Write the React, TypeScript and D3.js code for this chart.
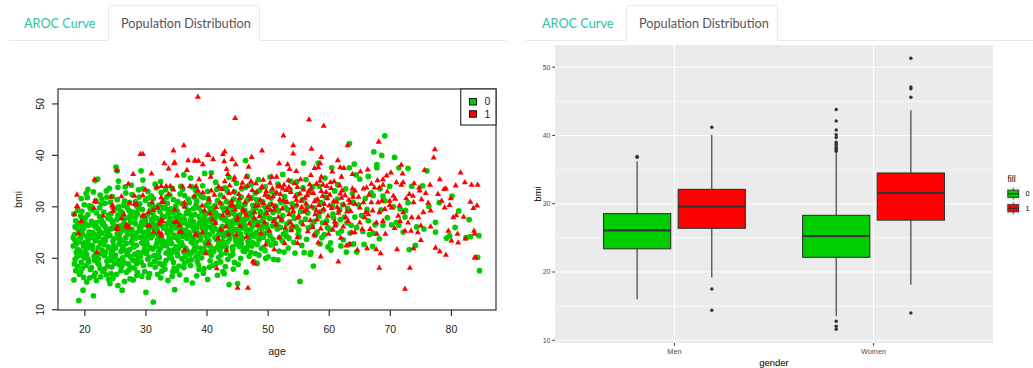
import React from 'react';
import * as d3 from 'd3';

// ---------- scatter: age vs bmi, by outcome class ----------
const classLabels = ['0', '1'];
const classColors = ['#00CD00', '#FF0000'];
const ageTicks = [20, 30, 40, 50, 60, 70, 80];
const bmiTicksScatter = [10, 20, 30, 40, 50];

// class 0: [age, bmi]
const class0Points: [number, number][] = [
  [18.1,22.4],[18.2,15.8],[18.3,24.6],[18.4,19.8],[18.5,27.3],[18.6,21.1],[18.7,25.9],[18.8,18.4],[18.9,23.2],[18.2,28.6],[18.5,17.6],[18.8,29.3],[18.4,26.1],[18.7,20.3],[18.1,24.0],[18.6,22.8],[18.3,18.9],[18.9,26.8],[18.4,23.5],[18.8,21.7],
  [19.0,11.8],[19.1,16.9],[19.2,23.9],[19.3,28.2],[19.4,20.6],[19.5,25.4],[19.6,18.1],[19.7,13.8],[19.8,22.3],[19.9,30.4],[19.2,26.7],[19.4,19.2],[19.6,24.7],[19.8,27.6],[19.1,21.5],[19.3,17.4],[19.5,29.1],[19.7,22.9],[19.9,20.1],[19.4,31.6],[19.6,26.0],[19.8,16.3],[19.0,25.2],
  [20.0,21.3],[20.1,27.9],[20.2,18.6],[20.3,24.3],[20.4,31.8],[20.5,19.9],[20.6,26.4],[20.7,22.6],[20.8,16.2],[20.9,29.7],[20.1,23.1],[20.3,20.7],[20.5,28.5],[20.7,25.1],[20.9,17.8],[20.2,32.6],[20.4,22.0],[20.6,19.3],[20.8,24.8],[20.0,26.9],[20.5,33.4],[20.7,30.2],[20.3,15.4],
  [21.0,24.1],[21.1,18.2],[21.2,29.4],[21.3,21.8],[21.4,12.7],[21.5,26.3],[21.6,19.6],[21.7,23.4],[21.8,31.2],[21.9,15.7],[21.1,27.2],[21.3,25.0],[21.5,20.4],[21.7,17.1],[21.9,28.8],[21.2,22.5],[21.4,32.9],[21.6,24.6],[21.8,21.0],[21.0,30.1],[21.7,35.1],[21.5,16.6],[21.9,26.0],
  [22.0,20.2],[22.1,35.4],[22.2,25.7],[22.3,18.8],[22.4,28.1],[22.5,23.0],[22.6,16.4],[22.7,30.6],[22.8,21.6],[22.9,26.6],[22.1,19.1],[22.3,24.2],[22.5,32.3],[22.7,27.4],[22.9,17.5],[22.2,22.1],[22.4,29.8],[22.6,20.9],[22.8,24.9],[22.0,27.0],[22.5,18.0],[22.8,31.5],
  [23.0,23.6],[23.1,29.0],[23.2,17.9],[23.3,26.2],[23.4,21.2],[23.5,33.1],[23.6,19.4],[23.7,24.5],[23.8,27.8],[23.9,15.9],[23.1,22.7],[23.3,30.7],[23.5,25.3],[23.7,18.5],[23.9,28.4],[23.2,20.5],[23.4,24.0],[23.6,31.9],[23.8,22.2],[23.0,26.9],[23.5,16.8],[23.9,19.9],
  [24.0,25.6],[24.1,15.1],[24.2,21.9],[24.3,28.7],[24.4,18.3],[24.5,32.0],[24.6,23.3],[24.7,26.5],[24.8,20.0],[24.9,29.6],[24.1,24.4],[24.3,17.0],[24.5,27.1],[24.7,22.4],[24.9,19.0],[24.2,30.9],[24.4,25.8],[24.6,16.1],[24.8,23.8],[24.0,33.6],[24.5,21.4],[24.9,26.2],[24.3,20.8],
  [25.0,22.0],[25.1,37.7],[25.2,27.5],[25.3,37.0],[25.4,14.7],[25.5,35.0],[25.6,24.2],[25.7,18.7],[25.8,29.2],[25.9,21.3],[25.1,25.9],[25.3,31.4],[25.5,19.6],[25.7,23.7],[25.9,27.9],[25.2,16.9],[25.4,33.8],[25.6,22.8],[25.8,26.3],[25.0,20.6],[25.5,30.0],[25.9,17.6],[25.3,24.8],
  [26.0,26.0],[26.1,13.8],[26.2,23.5],[26.3,30.3],[26.4,19.2],[26.5,27.7],[26.6,21.5],[26.7,32.7],[26.8,17.3],[26.9,25.2],[26.1,28.9],[26.3,22.3],[26.5,15.5],[26.7,24.0],[26.9,29.9],[26.2,20.1],[26.4,26.8],[26.6,33.9],[26.8,22.9],[26.0,18.4],[26.5,31.1],[26.9,20.7],[26.3,25.5],
  [27.0,24.7],[27.1,18.9],[27.2,29.3],[27.3,21.7],[27.4,16.0],[27.5,27.0],[27.6,23.1],[27.7,32.4],[27.8,19.7],[27.9,15.8],[27.1,26.4],[27.3,30.8],[27.5,20.3],[27.7,25.6],[27.9,22.6],[27.2,17.7],[27.4,28.3],[27.6,34.2],[27.8,24.3],[27.0,21.0],[27.5,18.2],[27.9,29.0],[27.4,25.0],
  [28.0,22.2],[28.1,27.3],[28.2,19.5],[28.3,31.0],[28.4,24.9],[28.5,16.7],[28.6,28.6],[28.7,21.1],[28.8,33.3],[28.9,26.1],[28.1,18.1],[28.3,23.9],[28.5,30.1],[28.7,20.0],[28.9,25.3],[28.2,27.9],[28.4,22.5],[28.6,17.2],[28.8,29.7],[28.0,24.4],[28.5,19.0],[28.9,31.9],[28.3,26.7],
  [29.0,25.8],[29.1,20.4],[29.2,37.0],[29.3,23.0],[29.4,28.0],[29.5,35.2],[29.6,18.6],[29.7,26.9],[29.8,21.9],[29.9,31.3],[29.1,24.1],[29.3,16.5],[29.5,33.5],[29.7,22.8],[29.9,27.4],[29.2,19.3],[29.4,29.5],[29.6,25.1],[29.8,17.4],[29.0,30.6],[29.5,21.2],[29.9,23.7],[29.3,27.0],
  [30.0,13.4],[30.1,23.3],[30.2,28.4],[30.3,19.8],[30.4,31.7],[30.5,25.7],[30.6,17.0],[30.7,22.1],[30.8,29.4],[30.9,26.3],[30.1,20.9],[30.3,33.0],[30.5,24.5],[30.7,18.8],[30.9,27.6],[30.2,22.7],[30.4,16.3],[30.6,30.5],[30.8,24.0],[30.0,26.6],[30.5,20.2],[30.9,32.1],[30.3,25.2],[30.7,28.9],
  [31.0,27.1],[31.1,21.8],[31.2,11.5],[31.3,30.0],[31.4,24.8],[31.5,18.3],[31.6,26.5],[31.7,33.7],[31.8,22.9],[31.9,16.9],[31.1,28.8],[31.3,20.5],[31.5,25.4],[31.7,29.8],[31.9,23.6],[31.2,31.6],[31.4,19.4],[31.6,22.3],[31.8,27.7],[31.0,24.3],[31.5,34.4],[31.9,20.1],[31.3,26.0],
  [32.0,24.6],[32.1,30.3],[32.2,19.0],[32.3,26.9],[32.4,22.0],[32.5,32.8],[32.6,17.5],[32.7,28.2],[32.8,23.4],[32.9,25.9],[32.1,21.3],[32.3,29.1],[32.5,24.2],[32.7,18.7],[32.9,31.2],[32.2,27.3],[32.4,16.2],[32.6,23.0],[32.8,29.9],[32.0,20.6],[32.5,26.4],[32.9,22.6],[32.4,34.9],
  [33.0,28.0],[33.1,22.8],[33.2,26.1],[33.3,19.6],[33.4,31.9],[33.5,24.9],[33.6,15.7],[33.7,29.4],[33.8,21.5],[33.9,27.5],[33.1,17.9],[33.3,25.7],[33.5,30.7],[33.7,23.3],[33.9,20.3],[33.2,33.3],[33.4,22.4],[33.6,28.6],[33.8,25.0],[33.0,18.9],[33.5,26.8],[33.9,32.3],[33.3,21.0],
  [34.0,23.8],[34.1,29.6],[34.2,20.0],[34.3,26.6],[34.4,17.4],[34.5,31.4],[34.6,24.5],[34.7,13.9],[34.8,28.1],[34.9,22.2],[34.1,25.3],[34.3,33.6],[34.5,19.2],[34.7,27.0],[34.9,30.2],[34.2,22.9],[34.4,28.9],[34.6,18.1],[34.8,24.1],[34.0,27.8],[34.5,21.6],[34.9,25.9],[34.3,16.5],
  [35.0,26.2],[35.1,21.0],[35.2,31.0],[35.3,24.0],[35.4,18.5],[35.5,28.4],[35.6,22.7],[35.7,34.0],[35.8,25.6],[35.9,19.9],[35.1,29.2],[35.3,23.5],[35.5,16.8],[35.7,26.7],[35.9,30.6],[35.2,20.5],[35.4,27.2],[35.6,32.5],[35.8,23.1],[35.0,17.6],[35.5,25.0],[35.9,28.0],[35.3,21.9],
  [36.0,22.5],[36.1,27.9],[36.2,36.2],[36.3,19.1],[36.4,30.1],[36.5,25.5],[36.6,15.8],[36.7,29.0],[36.8,21.4],[36.9,26.4],[36.1,24.3],[36.3,32.2],[36.5,20.4],[36.7,23.9],[36.9,31.5],[36.2,18.2],[36.4,26.9],[36.6,28.7],[36.8,24.7],[36.0,33.4],[36.5,22.0],[36.9,19.5],[36.3,27.5],
  [37.0,25.0],[37.1,30.8],[37.2,20.8],[37.3,27.4],[37.4,23.2],[37.5,33.9],[37.6,15.2],[37.7,26.0],[37.8,29.7],[37.9,21.8],[37.1,24.6],[37.3,18.6],[37.5,28.2],[37.7,22.9],[37.9,31.9],[37.2,26.6],[37.4,19.7],[37.6,24.0],[37.8,27.1],[37.0,29.3],[37.5,21.1],[37.9,25.3],[37.3,35.6],
  [38.0,28.5],[38.1,22.3],[38.2,26.3],[38.3,31.1],[38.4,19.4],[38.5,24.4],[38.6,29.8],[38.7,17.8],[38.8,27.0],[38.9,23.6],[38.1,33.2],[38.3,25.8],[38.5,20.9],[38.7,28.1],[38.9,22.0],[38.2,30.4],[38.4,24.9],[38.6,18.7],[38.8,26.7],[38.0,21.6],[38.5,32.6],[38.9,27.9],[38.3,16.6],
  [39.0,24.2],[39.1,29.1],[39.2,21.2],[39.3,26.9],[39.4,31.8],[39.5,18.0],[39.6,36.5],[39.7,25.4],[39.8,22.6],[39.9,28.7],[39.1,20.1],[39.3,34.1],[39.5,27.6],[39.7,23.0],[39.9,30.3],[39.2,25.9],[39.4,17.1],[39.6,28.3],[39.8,24.7],[39.0,32.0],[39.5,21.7],[39.9,26.2],
  [40.0,22.9],[40.1,15.9],[40.2,27.2],[40.3,30.9],[40.4,24.6],[40.5,19.5],[40.6,28.9],[40.7,36.6],[40.8,21.9],[40.9,26.5],[40.1,33.0],[40.3,23.4],[40.5,29.7],[40.7,20.6],[40.9,25.2],[40.2,31.6],[40.4,18.3],[40.6,26.0],[40.8,28.1],[40.0,24.0],[40.5,22.4],
  [41.0,26.7],[41.1,21.3],[41.2,30.2],[41.3,24.1],[41.4,28.8],[41.5,19.0],[41.6,33.4],[41.7,16.7],[41.8,25.5],[41.9,22.7],[41.1,29.4],[41.3,27.0],[41.5,23.7],[41.7,31.2],[41.9,20.2],[41.2,25.9],[41.4,34.8],[41.6,22.1],[41.8,28.3],[41.0,18.6],
  [42.0,23.1],[42.1,28.2],[42.2,32.3],[42.3,20.7],[42.4,25.8],[42.5,29.9],[42.6,17.4],[42.7,24.3],[42.8,17.0],[42.9,27.4],[42.1,21.6],[42.3,30.6],[42.5,26.2],[42.7,22.5],[42.9,33.7],[42.2,19.3],[42.4,27.8],[42.6,24.9],[42.8,29.2],[42.0,25.4],
  [43.0,27.6],[43.1,22.2],[43.2,31.0],[43.3,25.0],[43.4,19.8],[43.5,28.5],[43.6,14.9],[43.7,23.8],[43.8,30.4],[43.9,26.3],[43.1,21.0],[43.3,33.1],[43.5,24.5],[43.7,27.1],[43.9,20.5],[43.2,29.6],[43.4,23.2],[43.6,35.7],[43.8,25.7],[43.0,18.4],
  [44.0,24.8],[44.1,29.7],[44.2,21.7],[44.3,27.3],[44.4,31.5],[44.5,19.2],[44.6,25.6],[44.7,28.0],[44.8,22.8],[44.9,30.1],[44.1,26.5],[44.3,17.9],[44.5,32.9],[44.7,23.5],[44.9,26.9],[44.2,20.8],[44.4,28.7],[44.6,24.2],[44.8,34.6],
  [45.0,15.1],[45.1,25.3],[45.2,30.8],[45.3,22.3],[45.4,27.7],[45.5,20.0],[45.6,31.9],[45.7,26.1],[45.8,23.9],[45.9,29.0],[45.1,18.8],[45.3,28.4],[45.5,24.7],[45.7,33.5],[45.9,21.4],[45.2,26.8],[45.4,30.0],[45.6,22.9],[45.8,27.2],
  [46.0,27.0],[46.1,22.0],[46.2,29.3],[46.3,39.0],[46.4,17.3],[46.5,25.0],[46.6,31.3],[46.7,23.3],[46.8,28.6],[46.9,20.4],[46.1,26.4],[46.3,33.8],[46.5,21.8],[46.7,27.9],[46.9,24.4],[46.2,30.5],[46.4,25.7],[46.6,35.9],[46.8,22.6],
  [47.0,24.0],[47.1,28.8],[47.2,21.1],[47.3,31.8],[47.4,26.2],[47.5,23.0],[47.6,29.5],[47.7,19.3],[47.8,27.5],[47.9,32.7],[47.1,25.5],[47.3,22.4],[47.5,30.3],[47.7,26.8],[47.9,20.9],[47.2,34.4],[47.4,28.2],[47.6,24.6],
  [48.0,29.8],[48.1,25.1],[48.2,22.7],[48.3,30.7],[48.4,27.0],[48.5,20.6],[48.6,33.2],[48.7,24.5],[48.8,28.4],[48.9,21.9],[48.1,31.4],[48.3,26.4],[48.5,23.6],[48.7,29.1],[48.9,25.8],[48.2,19.0],[48.4,35.3],
  [49.0,26.1],[49.1,31.0],[49.2,22.1],[49.3,28.0],[49.4,24.8],[49.5,33.9],[49.6,20.0],[49.7,29.6],[49.8,25.9],[49.9,23.3],[49.1,27.3],[49.3,30.2],[49.5,21.5],[49.7,26.6],[49.9,32.1],[49.2,24.1],[49.6,28.7],
  [19.3,24.1],[20.6,23.7],[21.2,26.8],[22.4,25.2],[23.3,23.3],[24.2,27.6],[25.4,28.4],[26.2,22.0],[27.3,27.8],[28.4,28.9],[29.2,26.2],[30.2,24.8],[31.4,28.0],[32.3,24.0],[33.2,29.7],[34.2,26.2],[35.2,27.8],[36.2,25.2],[37.2,28.6],[38.2,23.1],[39.2,27.3],[40.4,27.5],[41.3,27.9],[42.5,23.3],[43.4,26.7],[44.3,25.4],[45.2,23.6],[46.3,27.6],[47.3,27.0],[48.6,26.0],
  [19.8,25.8],[21.9,23.9],[23.8,25.0],[25.8,25.0],[27.7,23.4],[29.7,24.4],[31.8,25.6],[33.8,23.9],[35.8,27.3],[37.8,23.7],[39.8,26.9],[41.8,24.4],[43.8,28.8],[45.8,25.9],[47.8,24.3],
  [20.2,20.4],[22.2,19.9],[24.2,19.6],[26.2,18.9],[28.2,20.8],[30.2,21.5],[32.2,20.2],[34.2,21.0],[36.2,21.2],[38.2,20.3],[40.2,21.2],[42.2,22.0],[44.2,22.2],[46.2,21.3],
  [50.0,20.3],[50.2,27.8],[50.3,24.4],[50.4,30.5],[50.5,22.6],[50.6,33.0],[50.7,26.3],[50.8,28.9],[50.9,19.8],[50.1,25.2],[50.5,31.7],[50.8,23.7],[50.3,35.8],
  [51.0,27.5],[51.2,22.9],[51.3,30.1],[51.5,25.7],[51.6,19.7],[51.7,29.2],[51.9,24.0],[51.1,32.6],[51.4,26.6],[51.8,21.4],[51.6,34.4],
  [52.0,26.0],[52.1,30.9],[52.3,23.4],[52.4,28.3],[52.6,21.2],[52.7,32.0],[52.9,25.3],[52.2,27.4],[52.5,24.7],[52.8,29.9],[52.4,36.3],
  [53.0,24.3],[53.2,29.4],[53.3,22.0],[53.5,27.1],[53.6,33.3],[53.8,25.8],[53.9,30.6],[53.1,26.7],[53.4,23.9],[53.7,35.0],
  [54.0,28.5],[54.2,23.1],[54.4,21.0],[54.5,30.2],[54.6,26.1],[54.8,32.4],[54.9,24.6],[54.3,27.8],[54.7,34.9],
  [55.0,25.5],[55.2,15.5],[55.3,29.1],[55.5,22.5],[55.6,31.4],[55.8,38.5],[55.9,21.1],[55.4,27.0],[55.7,33.7],[55.1,24.2],
  [56.1,27.6],[56.3,23.7],[56.4,30.0],[56.6,25.9],[56.8,32.8],[56.9,20.8],[56.2,35.3],[56.5,28.8],
  [57.0,21.1],[57.2,26.4],[57.4,18.5],[57.5,29.8],[57.7,24.5],[57.9,31.3],[57.3,33.9],[57.6,27.2],
  [58.0,25.1],[58.2,38.5],[58.3,28.1],[58.5,22.8],[58.7,30.8],[58.9,26.9],[58.4,34.0],[58.8,24.0],
  [59.0,29.3],[59.2,24.6],[59.4,31.9],[59.6,27.3],[59.8,22.2],[59.3,35.6],[59.7,26.0],
  [60.0,25.7],[60.2,23.0],[60.4,37.6],[60.5,30.2],[60.7,27.9],[60.9,33.1],[60.3,21.6],[60.6,28.6],
  [61.1,26.6],[61.3,31.5],[61.5,24.9],[61.7,29.4],[61.9,22.4],[61.4,34.3],[61.8,27.5],
  [62.0,25.3],[62.2,30.4],[62.5,28.0],[62.8,21.2],[62.7,33.5],[62.3,23.6],[62.9,26.9],
  [63.0,29.7],[63.3,37.6],[63.3,22.7],[63.6,26.4],[63.9,30.9],[63.4,24.9],[63.8,32.6],[63.3,42.3],
  [64.1,38.3],[64.0,22.8],[64.2,28.0],[64.4,36.2],[64.5,26.0],[64.5,21.2],[64.8,30.4],
  [65.0,35.4],[65.3,28.3],[65.7,22.7],[65.5,25.2],[65.9,31.6],
  [66.4,35.9],[66.4,27.3],[66.6,24.6],[66.2,29.5],[66.9,32.7],
  [67.1,22.3],[67.2,32.2],[67.2,24.9],[67.3,40.7],[67.5,26.5],[67.8,37.6],[67.8,38.2],
  [68.2,23.8],[68.3,33.5],[68.6,40.0],[68.8,32.1],[68.8,26.4],[68.5,29.4],
  [69.1,43.8],[69.1,31.2],[69.9,34.0],[69.5,27.9],
  [70.2,26.5],[70.7,39.6],[70.5,30.0],
  [71.0,27.0],[71.4,26.4],[71.4,37.6],[71.6,29.6],
  [72.1,25.1],[72.4,28.0],[72.5,29.3],[72.9,37.5],[72.9,30.8],
  [73.1,21.7],[73.5,34.0],[74.1,22.5],[74.3,26.1],[75.3,34.1],[75.5,25.7],[76.0,37.0],[76.3,30.1],
  [77.4,27.0],[77.4,25.1],[78.0,30.8],[79.2,23.9],[79.7,24.4],[80.1,32.1],[80.6,26.0],[81.2,29.2],
  [82.4,24.0],[82.9,27.5],[83.1,24.2],[84.3,20.2],[84.5,24.4],[84.6,17.6],
];

// class 1: [age, bmi]
const class1Points: [number, number][] = [
  [38.5,51.4],[36.2,42.0],[34.5,41.0],[29.1,40.3],[29.5,40.3],[38.1,39.0],[38.6,39.0],[34.7,38.7],[33.0,38.5],[39.3,38.3],[25.2,37.2],[33.7,37.5],[36.7,37.2],[30.9,36.5],[27.9,36.4],[35.1,36.1],[21.6,35.4],[27.1,34.5],[38.7,35.4],
  [18.7,32.4],[18.8,30.1],[18.3,28.6],[19.4,27.3],[19.0,24.9],[21.5,29.8],[21.6,31.1],[26.0,32.1],[24.3,32.0],[27.3,30.8],[28.1,30.6],[24.5,30.3],[24.6,29.2],[23.0,28.3],[26.4,28.6],[27.0,26.4],[27.2,26.0],[26.0,27.8],[25.3,25.7],[22.0,21.2],
  [29.7,28.3],[30.6,26.4],[30.4,29.0],[31.0,30.9],[29.9,33.4],[31.8,33.9],[32.5,34.1],[33.3,34.1],[34.0,34.1],[32.5,31.9],[32.8,30.9],[31.9,29.9],[32.7,27.3],[32.2,26.7],[33.7,32.5],[34.5,33.4],[32.1,25.1],
  [36.0,34.0],[37.2,34.1],[38.2,34.1],[38.5,33.2],[39.3,32.8],[37.9,32.1],[36.3,30.8],[36.3,30.1],[34.7,29.5],[34.7,27.1],[35.1,27.1],[35.5,26.4],[35.8,25.1],[38.1,24.7],[36.3,21.6],[39.2,25.1],[39.6,29.3],[39.2,30.3],
  [30.3,26.4],[32.5,24.4],[28.1,32.2],[29.5,32.3],[28.5,30.5],[25.3,26.2],[26.8,26.2],[24.6,29.9],
  [18.7,30.2],[21.9,31.0],[24.5,30.4],[25.2,25.9],[26.8,26.5],[31.2,29.4],[32.5,27.5],[29.5,28.4],[31.2,25.2],[32.5,24.9],[32.6,31.0],[35.5,25.2],[36.4,21.7],[38.3,24.6],
  [34.6,38.5],[36.9,39.1],[38.0,39.1],[40.2,40.1],
  [44.6,47.3],[56.7,47.0],[59.1,45.8],[52.5,43.9],[54.1,42.0],[54.1,40.4],[57.1,41.3],[49.0,41.0],[42.9,40.8],[42.6,40.3],[40.1,40.1],[41.0,39.3],[44.1,39.3],[47.3,39.7],[58.7,39.7],[61.4,39.1],[51.8,38.5],[53.2,38.3],[46.8,37.8],[44.7,38.3],[42.8,38.9],[43.2,37.4],[54.6,37.0],[53.5,37.4],[57.6,37.6],[58.2,37.7],[58.5,38.5],[61.8,37.7],[62.4,37.6],[63.0,42.0],
  [51.4,35.9],[50.6,35.9],[46.4,35.9],[40.6,35.9],[43.4,36.4],[57.0,36.2],[58.7,35.9],[60.5,36.9],[62.0,35.9],[44.4,35.3],[49.2,35.3],[51.9,34.1],[57.9,34.5],[59.6,34.1],[60.2,34.8],[53.4,33.9],[54.8,33.9],
  [45.0,14.3],[46.7,14.3],[47.8,19.0],[43.2,21.7],[51.0,21.8],[52.7,23.0],[58.6,20.4],[61.5,19.4],[58.2,23.1],[54.8,23.0],[49.6,22.7],[39.8,21.0],
  [40.3,31.5],[40.7,33.2],[40.9,27.6],[40.5,28.8],[40.2,23.0],
  [41.2,32.4],[41.5,30.0],[41.8,23.9],[41.6,18.1],[41.4,26.9],[41.9,34.0],
  [42.1,30.8],[42.4,33.5],[42.6,28.4],[42.8,31.9],[42.3,25.6],[42.9,35.0],
  [43.3,29.3],[43.4,28.9],[43.6,32.7],[43.9,30.3],[43.1,26.2],[43.7,34.2],[43.5,24.7],
  [44.0,31.2],[44.3,33.0],[44.6,29.5],[44.8,24.6],[44.9,27.5],[44.5,35.8],[44.2,30.4],
  [45.0,28.0],[45.3,31.7],[45.6,33.9],[45.9,29.6],[45.4,26.3],[45.8,34.7],[45.2,32.5],
  [46.5,24.2],[46.2,30.9],[46.4,28.5],[46.8,32.2],[46.6,34.1],[46.0,29.2],[46.9,26.8],
  [47.5,19.4],[47.8,29.0],[47.1,31.6],[47.4,33.3],[47.7,27.8],[47.2,35.0],[47.9,30.2],
  [48.1,32.9],[48.4,30.3],[48.6,28.2],[48.9,33.8],[48.3,26.5],[48.7,31.4],[48.0,34.6],[48.8,24.9],
  [49.2,30.8],[49.5,32.4],[49.8,28.8],[49.0,34.0],[49.4,27.0],[49.7,33.1],[49.9,30.0],
  [50.1,31.9],[50.4,29.4],[50.7,33.6],[50.9,27.3],[50.3,34.7],[50.6,30.6],[50.2,25.4],[50.8,32.1],
  [51.1,30.2],[51.4,32.8],[51.7,28.1],[51.9,31.5],[51.3,26.6],[51.6,34.0],[51.0,29.5],[51.8,24.1],
  [52.0,32.5],[52.3,29.7],[52.6,34.3],[52.9,30.9],[52.2,27.5],[52.5,31.3],[52.8,26.0],[52.4,33.6],
  [53.1,31.0],[53.4,28.6],[53.7,32.9],[53.9,29.9],[53.3,35.2],[53.6,27.0],[53.0,33.3],[53.8,25.5],
  [54.1,29.2],[54.4,32.1],[54.7,30.5],[54.9,27.9],[54.3,34.6],[54.6,31.4],[54.0,26.4],[54.8,24.1],
  [55.2,32.6],[55.5,30.0],[55.8,33.4],[55.0,28.3],[55.4,31.2],[55.7,26.6],[55.9,29.1],[55.3,35.4],
  [56.0,31.8],[56.3,29.5],[56.6,33.0],[56.9,27.4],[56.2,30.7],[56.5,25.3],[56.8,34.4],[56.4,32.3],
  [57.1,30.1],[57.4,32.7],[57.7,28.6],[57.0,33.6],[57.3,26.1],[57.6,31.1],[57.9,29.3],[57.5,24.6],
  [58.1,31.5],[58.4,29.0],[58.7,33.1],[58.0,27.6],[58.3,30.4],[58.6,25.8],[58.9,32.2],[58.5,35.1],
  [59.2,30.6],[59.5,32.9],[59.8,28.3],[59.0,34.3],[59.4,26.9],[59.7,31.7],[59.1,29.6],[59.9,24.8],
  [60.1,32.4],[60.4,29.8],[60.7,31.1],[60.9,27.2],[60.3,33.7],[60.6,25.6],[60.0,30.3],[60.8,35.0],
  [61.2,31.0],[61.5,28.9],[61.8,32.6],[61.0,26.4],[61.3,30.0],[61.7,34.2],[61.9,24.0],[61.6,29.4],
  [62.1,33.2],[62.4,30.5],[62.7,28.0],[62.0,31.8],[62.3,26.2],[62.6,32.3],[62.9,29.1],[62.8,22.5],
  [63.2,31.4],[63.5,29.2],[63.8,33.6],[63.1,27.3],[63.4,30.8],[63.7,25.1],[63.9,32.0],[63.4,22.8],
  [68.1,42.7],[77.3,41.2],[77.1,39.6],[75.6,37.2],[71.8,38.2],[72.0,36.5],[65.1,36.9],[68.8,35.4],[78.1,35.4],[81.5,36.7],[82.2,34.8],[83.3,34.3],[84.3,34.3],[80.7,34.2],[79.1,33.6],[78.8,33.5],[76.5,34.3],
  [79.9,31.7],[83.1,31.0],[84.2,30.3],[83.6,29.8],[79.7,30.4],[78.9,29.9],[80.8,28.4],[80.3,28.0],[82.0,28.1],[79.5,25.4],[81.0,24.8],[82.3,23.9],[80.0,23.5],[81.1,23.1],[83.7,25.4],[83.8,24.8],[83.8,20.2],[84.0,20.2],
  [79.1,20.7],[78.1,21.4],[77.4,22.1],[75.0,23.6],[73.8,22.0],[73.2,18.2],[68.2,18.2],[72.4,14.1],[71.1,21.8],[68.4,21.0],[67.7,21.8],[66.2,22.0],[64.6,21.7],
  [76.6,26.2],[75.0,26.4],[74.5,25.1],[73.4,25.4],[72.4,25.4],[70.7,25.9],[69.2,24.8],[67.8,24.8],[66.7,25.7],[65.4,25.7],[64.2,25.1],
  [75.4,29.0],[76.6,29.3],[74.6,28.0],[73.5,28.0],[72.1,29.0],[71.3,28.3],[69.9,30.4],[70.2,29.9],[69.1,29.6],[68.2,29.0],[67.1,29.3],[66.0,29.0],[65.0,29.9],[64.2,30.6],
  [73.8,30.9],[73.7,32.2],[75.1,31.5],[74.8,33.2],[73.1,32.5],[74.7,33.8],[71.8,34.3],[72.1,34.8],[71.0,34.8],[68.8,34.3],[68.2,33.8],[67.4,33.8],[66.9,34.5],[66.1,33.8],[65.6,33.6],[64.2,33.2],
  [70.5,32.2],[69.9,31.2],[68.6,31.2],[68.0,30.9],[66.9,30.9],[65.6,30.9],[65.8,28.0],[65.0,27.0],[67.7,27.0],[68.8,27.3],[71.6,27.3],[72.9,27.0],[66.4,28.6],
  [64.8,32.0],[66.5,32.4],[67.9,35.2],[69.5,33.0],[70.8,31.6],[71.5,30.3],[72.6,31.7],[73.9,34.6],[75.8,32.7],[76.2,30.8],[77.8,32.5],[78.4,31.2],[69.4,36.1],[70.1,36.7],[66.3,37.3],[63.8,36.4],
];

// ---------- box plot: bmi by gender and class ----------
const genders = ['Men', 'Women'];
const boxGender = ['Men', 'Men', 'Women', 'Women'];
const boxClass = ['0', '1', '0', '1'];
const boxWhiskerLow = [16.0, 19.2, 13.56, 18.15];
const boxQ1 = [23.4, 26.4, 22.15, 27.6];
const boxMedian = [26.1, 29.55, 25.27, 31.57];
const boxQ3 = [28.55, 32.1, 28.3, 34.5];
const boxWhiskerHigh = [36.2, 40.1, 37.5, 43.7];
const boxOutliers = [
  [36.8, 36.9],
  [41.2, 17.5, 14.4],
  [37.7, 37.9, 38.1, 38.4, 38.7, 39.0, 39.7, 40.1, 40.8, 42.1, 43.8, 12.8, 12.05, 11.6],
  [45.6, 46.85, 47.1, 51.3, 14.0],
];
const bmiTicksBox = [10, 20, 30, 40, 50];
const bmiMinorBox = [15, 25, 35, 45];

const tabLabels = ['AROC Curve', 'Population Distribution'];

const SANS = 'Liberation Sans, Arial, sans-serif';
const TABFONT = 'Lato, "Open Sans", sans-serif';

function Tabs({ x0, tabX1, tabX2, lineX1, lineX2 }: any) {
  const top = 5, bottom = 40, r = 4;
  return (
    <g>
      <line x1={lineX1} x2={tabX1} y1={bottom + 0.5} y2={bottom + 0.5} stroke="#e6eaeb" />
      <line x1={tabX2} x2={lineX2} y1={bottom + 0.5} y2={bottom + 0.5} stroke="#e6eaeb" />
      <path
        d={`M${tabX1 + 0.5},${bottom + 0.5}V${top + r}Q${tabX1 + 0.5},${top + 0.5} ${tabX1 + r},${top + 0.5}H${tabX2 - r}Q${tabX2 - 0.5},${top + 0.5} ${tabX2 - 0.5},${top + r}V${bottom + 0.5}`}
        fill="#fff" stroke="#e6eaeb" />
      <text x={x0} y={28} fontFamily={TABFONT} fontSize={12.7} fill="#2ebf9f">{tabLabels[0]}</text>
      <text x={tabX1 + 13} y={28} fontFamily={TABFONT} fontSize={12.7} fill="#555">{tabLabels[1]}</text>
    </g>
  );
}

function Scatter() {
  const P = { left: 58, right: 496, top: 89, bottom: 310 };
  const x = d3.scaleLinear().domain([15.6, 87.3]).range([P.left, P.right]);
  const y = d3.scaleLinear().domain([9.95, 52.9]).range([P.bottom, P.top]);
  const tri = d3.symbol(d3.symbolTriangle, 16)() as string;
  const axisCol = '#333';
  return (
    <g>
      {class0Points.map((d, i) => (
        <circle key={'g' + i} cx={x(d[0])} cy={y(d[1])} r={2.85} fill={classColors[0]} />
      ))}
      {class1Points.map((d, i) => (
        <path key={'r' + i} d={tri} transform={`translate(${x(d[0])},${y(d[1]) + 0.4})`} fill={classColors[1]} />
      ))}
      <rect x={P.left} y={P.top} width={P.right - P.left} height={P.bottom - P.top} fill="none" stroke={axisCol} strokeWidth={1.2} />
      {ageTicks.map(t => (
        <g key={'xt' + t}>
          <line x1={x(t)} x2={x(t)} y1={P.bottom} y2={P.bottom + 6} stroke={axisCol} strokeWidth={1.2} />
          <text x={x(t)} y={332.8} textAnchor="middle" fontFamily={SANS} fontSize={10.5} fill="#222">{t}</text>
        </g>
      ))}
      {bmiTicksScatter.map(t => (
        <g key={'yt' + t}>
          <line x1={P.left - 6} x2={P.left} y1={y(t)} y2={y(t)} stroke={axisCol} strokeWidth={1.2} />
          <text transform={`translate(44.3,${y(t)}) rotate(-90)`} textAnchor="middle" fontFamily={SANS} fontSize={10.5} fill="#222">{t}</text>
        </g>
      ))}
      <text x={(P.left + P.right) / 2} y={355} textAnchor="middle" fontFamily={SANS} fontSize={10.5} fill="#222">age</text>
      <text transform={`translate(21.6,${(P.top + P.bottom) / 2}) rotate(-90)`} textAnchor="middle" fontFamily={SANS} fontSize={10.5} fill="#222">bmi</text>
      {/* legend */}
      <rect x={460.7} y={P.top} width={P.right - 460.7} height={125 - P.top} fill="#fff" stroke={axisCol} strokeWidth={1.2} />
      {classLabels.map((c, i) => (
        <g key={'lg' + c}>
          <rect x={469.5} y={98.5 + i * 12.2} width={7} height={6.5} fill={classColors[i]} stroke="#000" strokeWidth={0.9} />
          <text x={484.5} y={105.3 + i * 12.2} fontFamily={SANS} fontSize={10.5} fill="#222">{c}</text>
        </g>
      ))}
    </g>
  );
}

function BoxPlot() {
  const P = { left: 555, right: 993, top: 45, bottom: 343 };
  const y = d3.scaleLinear().domain([9.6, 53.25]).range([P.bottom, P.top]);
  const x = d3.scalePoint<string>().domain(genders).range([P.left, P.right]).padding(0.6);
  const step = x.step();
  const boxW = 0.3375 * step;
  const dodge = 0.1875 * step;
  const fillOf = (c: string) => classColors[classLabels.indexOf(c)];
  const dark = '#333333';
  const keyTop = [186.5, 201];
  const keyX = 1006, keyS = 14.5;
  return (
    <g>
      <rect x={P.left} y={P.top} width={P.right - P.left} height={P.bottom - P.top} fill="#EBEBEB" />
      {bmiMinorBox.map(t => (
        <line key={'mn' + t} x1={P.left} x2={P.right} y1={y(t)} y2={y(t)} stroke="#fff" strokeWidth={0.55} />
      ))}
      {bmiTicksBox.map(t => (
        <line key={'mj' + t} x1={P.left} x2={P.right} y1={y(t)} y2={y(t)} stroke="#fff" strokeWidth={1.1} />
      ))}
      {genders.map(g => (
        <line key={'vx' + g} x1={x(g)} x2={x(g)} y1={P.top} y2={P.bottom} stroke="#fff" strokeWidth={1.1} />
      ))}
      {boxGender.map((g, i) => {
        const cx = (x(g) as number) + (boxClass[i] === '0' ? -dodge : dodge);
        return (
          <g key={'bx' + i}>
            <line x1={cx} x2={cx} y1={y(boxWhiskerHigh[i])} y2={y(boxQ3[i])} stroke={dark} strokeWidth={1.1} />
            <line x1={cx} x2={cx} y1={y(boxQ1[i])} y2={y(boxWhiskerLow[i])} stroke={dark} strokeWidth={1.1} />
            <rect x={cx - boxW / 2} y={y(boxQ3[i])} width={boxW} height={y(boxQ1[i]) - y(boxQ3[i])}
              fill={fillOf(boxClass[i])} stroke={dark} strokeWidth={1.1} />
            <line x1={cx - boxW / 2} x2={cx + boxW / 2} y1={y(boxMedian[i])} y2={y(boxMedian[i])} stroke={dark} strokeWidth={2.1} />
            {boxOutliers[i].map((v, j) => (
              <circle key={j} cx={cx} cy={y(v)} r={1.75} fill={dark} />
            ))}
          </g>
        );
      })}
      {bmiTicksBox.map(t => (
        <g key={'yt' + t}>
          <line x1={P.left - 2.7} x2={P.left} y1={y(t)} y2={y(t)} stroke={dark} strokeWidth={1} />
          <text x={550.5} y={y(t)} dy="0.35em" textAnchor="end" fontFamily={SANS} fontSize={7} fill="#4D4D4D">{t}</text>
        </g>
      ))}
      {genders.map(g => (
        <g key={'xt' + g}>
          <line x1={x(g)} x2={x(g)} y1={P.bottom} y2={P.bottom + 2.7} stroke={dark} strokeWidth={1} />
          <text x={x(g)} y={354.2} textAnchor="middle" fontFamily={SANS} fontSize={7.3} fill="#4D4D4D">{g}</text>
        </g>
      ))}
      <text x={(P.left + P.right) / 2} y={365.5} textAnchor="middle" fontFamily={SANS} fontSize={9.5} fill="#000">gender</text>
      <text transform={`translate(540.5,${(P.top + P.bottom) / 2}) rotate(-90)`} textAnchor="middle" fontFamily={SANS} fontSize={9.5} fill="#000">bmi</text>
      {/* legend */}
      <text x={1007.5} y={181.5} fontFamily={SANS} fontSize={8.5} fill="#000">fill</text>
      {classLabels.map((c, i) => {
        const ky = keyTop[i];
        const kcx = keyX + keyS / 2;
        return (
          <g key={'lk' + c}>
            <rect x={keyX} y={ky} width={keyS} height={keyS} fill="#F2F2F2" stroke="#fff" strokeWidth={0.5} />
            <line x1={kcx} x2={kcx} y1={ky + keyS * 0.1} y2={ky + keyS * 0.25} stroke={dark} strokeWidth={0.9} />
            <line x1={kcx} x2={kcx} y1={ky + keyS * 0.75} y2={ky + keyS * 0.9} stroke={dark} strokeWidth={0.9} />
            <rect x={keyX + keyS * 0.125} y={ky + keyS * 0.25} width={keyS * 0.75} height={keyS * 0.5}
              fill={classColors[i]} stroke={dark} strokeWidth={0.9} />
            <line x1={keyX + keyS * 0.125} x2={keyX + keyS * 0.875} y1={ky + keyS / 2} y2={ky + keyS / 2} stroke={dark} strokeWidth={1.2} />
            <text x={1025.5} y={ky + keyS / 2} dy="0.35em" fontFamily={SANS} fontSize={7.3} fill="#000">{c}</text>
          </g>
        );
      })}
    </g>
  );
}

export default function App() {
  return (
    <svg width={1033} height={368} style={{ position: 'absolute', left: 0, top: 0, background: '#fff' }}>
      <rect width={1033} height={368} fill="#fff" />
      <Tabs x0={24} tabX1={108} tabX2={260} lineX1={9} lineX2={506} />
      <Tabs x0={542} tabX1={626} tabX2={778} lineX1={526} lineX2={1033} />
      <Scatter />
      <BoxPlot />
    </svg>
  );
}
